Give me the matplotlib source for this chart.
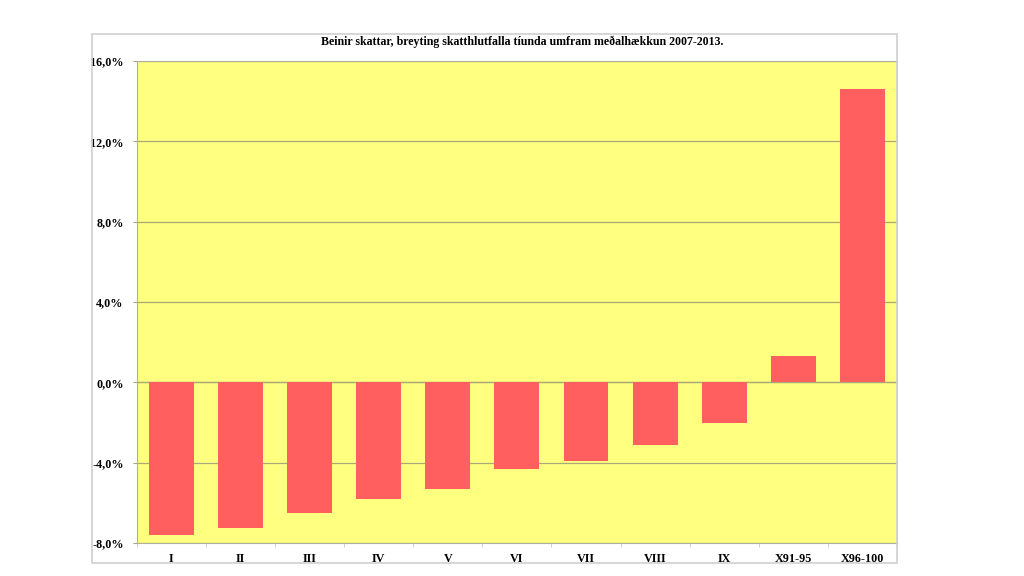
import numpy as np
import matplotlib.pyplot as plt
from matplotlib.patches import Rectangle

# Data
categories = ['I', 'II', 'III', 'IV', 'V', 'VI', 'VII', 'VIII', 'IX', 'X91-95', 'X96-100']
values = [-7.60, -7.27, -6.49, -5.83, -5.31, -4.30, -3.90, -3.10, -2.03, 1.31, 14.59]
yticks = [-8, -4, 0, 4, 8, 12, 16]

plt.rcParams['font.family'] = ['Liberation Serif', 'DejaVu Serif']
fs = 8.7

fig = plt.figure(figsize=(10.24, 5.76), dpi=100)
# outer chart frame (no fill so it doesn't cover the axes)
fig.patches.append(Rectangle((0.0898, 0.0226), 0.786, 0.918, transform=fig.transFigure,
                             facecolor='none', edgecolor='#cfcfcf', lw=1.2))

ax = fig.add_axes([0.1335, 0.0573, 0.7425, 0.8368])
ax.set_facecolor('#ffff80')
x = np.arange(len(categories))
ax.bar(x, values, width=0.65, color='#ff5f5f', zorder=3)

ax.set_ylim(-8, 16)
ax.set_xlim(-0.5, len(categories) - 0.5)
ax.set_yticks(yticks)
ax.set_yticklabels([f'{v:.1f}%'.replace('.', ',') for v in yticks],
                   fontsize=fs, fontweight='bold')
ax.yaxis.grid(True, color='#a8a878', lw=0.9, zorder=1)
ax.axhline(0, color='#a8a878', lw=0.9, zorder=2)

ax.set_xticks(x)
ax.set_xticklabels(categories, fontsize=fs, fontweight='bold')
ax.tick_params(axis='x', length=0, pad=7.5)
ax.set_xticks(np.arange(-0.5, len(categories), 1), minor=True)
ax.tick_params(axis='x', which='minor', length=3, color='#c8c8c8', direction='out')
ax.tick_params(axis='y', length=3, color='#a8a878', pad=6.5)

for s in ['left', 'bottom', 'top']:
    ax.spines[s].set_color('#b0b0a0')
ax.spines['right'].set_color('#cfcfcf')

fig.text(0.5098, 0.927, 'Beinir skattar, breyting skatthlutfalla tíunda umfram meðalhækkun 2007-2013.',
         ha='center', va='center', fontsize=8.6, fontweight='bold')

fig.savefig('out.png', dpi=100)
